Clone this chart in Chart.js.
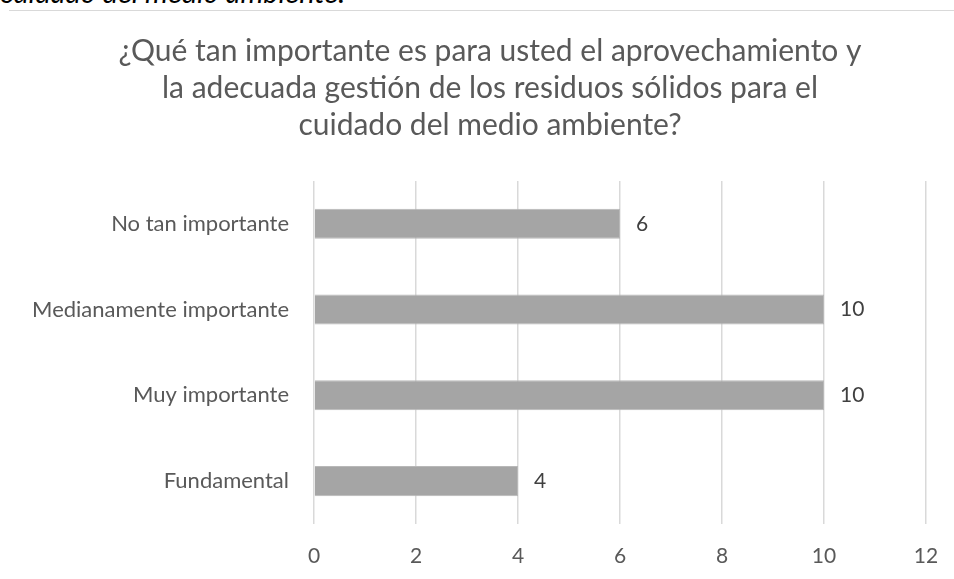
<!DOCTYPE html>
<html>
<head>
<meta charset="utf-8">
<script src="https://cdn.jsdelivr.net/npm/chart.js@4.4.1/dist/chart.umd.min.js"></script>
<style>
  html, body { margin: 0; padding: 0; background: #fff; }
  #wrap { position: relative; width: 954px; height: 579px; overflow: hidden; }
  #caption {
    position: absolute; left: 0; top: -26px;
    font-family: Lato, sans-serif; font-style: italic; font-size: 29px;
    color: #000; white-space: nowrap;
  }
  #rule { position: absolute; left: 9px; right: 0; top: 10px; height: 1px; background: #d9d9d9; }
  canvas { position: absolute; left: 0; top: 0; }
</style>
</head>
<body>
<div id="wrap">
  <div id="caption">cuidado del medio ambiente.</div>
  <div id="rule"></div>
  <canvas id="myChart" width="954" height="579"></canvas>
</div>
<script>
/*----data----*/
const categories = ["No tan importante", "Medianamente importante", "Muy importante", "Fundamental"];
const values = [6, 10, 10, 4];
const xTicks = [0, 2, 4, 6, 8, 10, 12];
const titleLines = [
  "¿Qué tan importante es para usted el aprovechamiento y",
  "la adecuada gestión de los residuos sólidos para el",
  "cuidado del medio ambiente?"
];

/*----value labels next to bars----*/
const valueLabels = {
  id: "valueLabels",
  afterDatasetsDraw(chart) {
    const ctx = chart.ctx;
    const meta = chart.getDatasetMeta(0);
    ctx.save();
    ctx.font = "21px Lato";
    ctx.fillStyle = "#404040";
    ctx.textAlign = "left";
    ctx.textBaseline = "middle";
    meta.data.forEach(function(bar, i) {
      ctx.fillText(values[i], bar.x + 16, bar.y);
    });
    ctx.restore();
  }
};

new Chart("myChart", {
  type: "bar",
  data: {
    labels: categories,
    datasets: [{
      data: values,
      backgroundColor: "#a5a5a5",
      borderColor: "#b8b8b8",
      borderWidth: 1,
      categoryPercentage: 1,
      barPercentage: 0.35
    }]
  },
  options: {
    indexAxis: "y",
    responsive: false,
    animation: false,
    layout: { padding: { left: 54, right: 28, top: 0, bottom: 0 } },
    plugins: {
      legend: { display: false },
      tooltip: { enabled: false },
      title: {
        display: true,
        text: titleLines,
        color: "#595959",
        font: { family: "Lato", size: 30, weight: "normal", lineHeight: 1.233 },
        padding: { top: 33, bottom: 37 }
      }
    },
    scales: {
      x: {
        min: 0,
        max: 12,
        afterBuildTicks(s) { s.ticks = xTicks.map(v => ({ value: v })); },
        afterFit(s) {
          s.height = 55;
          // "12" sits inside the right margin, no extra room needed
          s.paddingLeft = 0;
          s.paddingRight = 0;
        },
        grid: { color: "#d9d9d9", lineWidth: 1.5, drawTicks: false },
        border: { display: false },
        ticks: { color: "#595959", font: { family: "Lato", size: 21 }, padding: 20 }
      },
      y: {
        afterFit(s) {
          s.width = 260;
          // long category labels run past the left padding, don't clip them
          s._computeLabelArea = function() { return null; };
        },
        grid: { display: false, drawTicks: false },
        border: { display: false },
        ticks: { color: "#595959", font: { family: "Lato", size: 22 }, padding: 25 }
      }
    }
  },
  plugins: [valueLabels]
});
</script>
</body>
</html>
